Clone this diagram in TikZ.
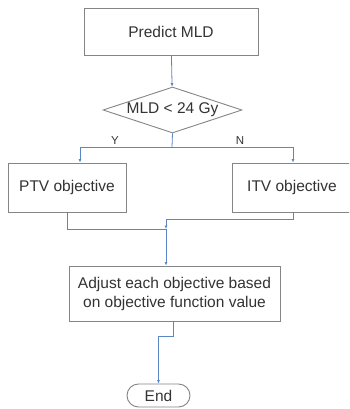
\documentclass[tikz,border=0pt]{standalone}
\usepackage{fontspec}
\setmainfont{Liberation Sans}
\usetikzlibrary{shapes.geometric,shapes.misc,arrows.meta}
\definecolor{boxgray}{HTML}{858585}
\definecolor{flowblue}{HTML}{5B86C5}
\definecolor{txtgray}{HTML}{333333}
\tikzset{
    stepbox/.style={draw=boxgray,line width=0.9pt,inner sep=0pt,text=txtgray,
        font=\fontsize{15.5}{19}\selectfont},
    flow/.style={draw=flowblue,line width=0.8pt},
    flowarrow/.style={flow,-{Latex[length=3.5pt,width=3pt]}},
    yesno/.style={text=txtgray,font=\fontsize{11.5}{13}\selectfont}
}
\begin{document}
\begin{tikzpicture}[x=1pt,y=-1pt]
        \clip (0,0) rectangle (349,409);
        \fill[white] (0,0) rectangle (349,409);

        \node (predict) at (171,31.5)[stepbox,minimum width=174,minimum height=47]{Predict MLD};
        \node (test) at (172.5,110)[stepbox,diamond,aspect=3,minimum width=139,minimum height=46]{MLD < 24 Gy};
        \node (ptv) at (67,187.5)[stepbox,minimum width=118,minimum height=49]{PTV objective};
        \node (itv) at (292,187.5)[stepbox,minimum width=120,minimum height=49]{ITV objective};
        \node (adjust) at (174.5,293.5)[stepbox,align=center,minimum width=211,minimum height=55]{Adjust each objective based\\on objective function value};
        \node (theend) at (158.5,395.5)[stepbox,rounded rectangle,minimum width=63,minimum height=23]{End};

        \coordinate (split) at (172,147);
        \coordinate (merge) at (166,219);
        \coordinate (join) at (166,229);

        \draw[flowarrow] (predict) -- (test);
        \draw[flow] (test.south) -- (split);
        \draw[flowarrow] (split) -| ([xshift=13]ptv.north);
        \draw[flowarrow] (split) -| ([xshift=1]itv.north);

        \draw[flow] (ptv.south) |- (join);
        \draw[flowarrow] ([xshift=1]itv.south) |- (merge) -- (join);
        \draw[flowarrow] (join) -- (adjust.north -| join);
        \draw[flowarrow] ([xshift=-1.5]adjust.south) -- ++(0,15) -| (theend.north);

        \node (yes) at (115,141)[yesno]{Y};
        \node (no) at (240,141)[yesno]{N};
    \end{tikzpicture}
\end{document}
